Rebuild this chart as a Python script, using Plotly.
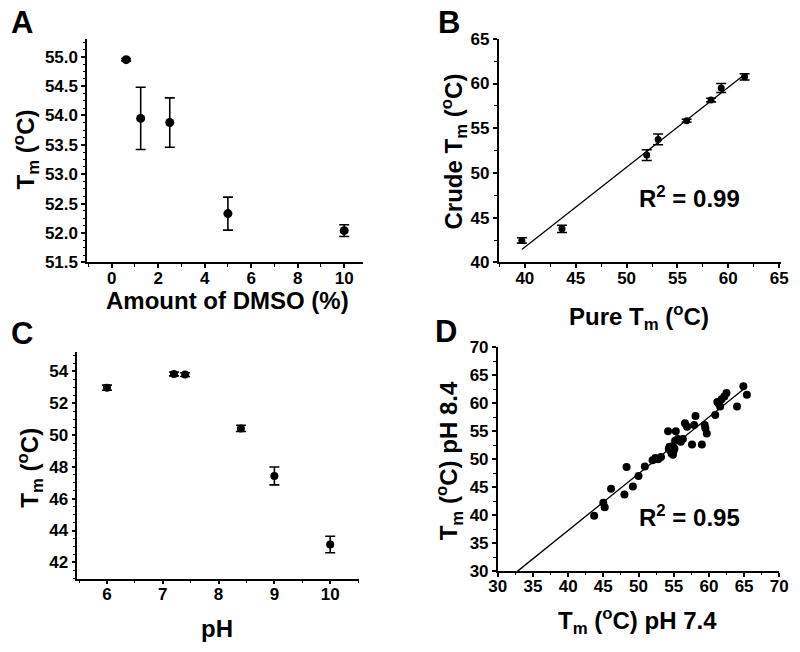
import numpy as np
import plotly.graph_objects as go

W, H = 800, 652

# ---------------- data ----------------
# Panel A
dmso_pct = [0.625, 1.25, 2.5, 5, 10]
dmso_tm = [54.95, 53.95, 53.88, 52.33, 52.04]
dmso_err = [0.02, 0.53, 0.42, 0.28, 0.10]

# Panel B
pure_tm = [39.7, 43.65, 51.98, 53.1, 55.9, 58.3, 59.3, 61.6]
crude_tm = [42.45, 43.75, 52.0, 53.75, 55.85, 58.15, 59.5, 60.75]
crude_err = [0.3, 0.4, 0.6, 0.6, 0.15, 0.2, 0.5, 0.35]

# Panel C
ph_vals = [6, 7.2, 7.4, 8.4, 9, 10]
ph_tm = [52.98, 53.84, 53.8, 50.42, 47.43, 43.12]
ph_err = [0.16, 0.12, 0.12, 0.2, 0.56, 0.52]

# Panel D
tm_ph74 = [43.7, 45.0, 45.2, 46.1, 48.0, 48.3, 49.2, 50.0, 50.9, 52.0, 52.4, 52.8,
           53.2, 54.2, 54.3, 54.4, 54.6, 54.7, 54.9, 55.0, 55.1, 54.8, 55.3, 55.2,
           55.6, 56.0, 56.3, 56.6, 56.9, 57.6, 58.1, 57.9, 59.0, 59.4, 59.7, 59.5,
           60.9, 61.2, 61.6, 61.8, 62.2, 62.5, 61.4, 64.0, 64.9, 65.4]
tm_ph84 = [39.9, 42.2, 41.4, 44.7, 43.7, 48.6, 45.1, 47.0, 48.7, 49.8, 50.2, 50.0,
           50.4, 55.0, 51.8, 52.2, 51.4, 51.0, 50.8, 51.5, 51.9, 52.3, 55.0, 53.3,
           53.6, 53.1, 53.6, 56.4, 55.8, 52.6, 57.7, 56.1, 52.6, 56.1, 54.6, 55.5,
           57.9, 60.2, 59.4, 60.7, 61.2, 61.8, 59.9, 59.4, 63.0, 61.5]

r2_b = "0.99"
r2_d = "0.95"

# ---------------- figure ----------------
FONT = "Liberation Sans, Arial, Helvetica, sans-serif"
fig = go.Figure()


def px_x(x):
    return x / W


def px_y(y):
    return 1 - y / H


marker = dict(color="black", size=9, symbol="circle")


def err(arr):
    return dict(type="data", array=arr, visible=True, color="black", thickness=1.6, width=5)


# A
fig.add_trace(go.Scatter(x=dmso_pct, y=dmso_tm, mode="markers", marker=marker,
                         error_y=err(dmso_err), xaxis="x", yaxis="y", showlegend=False))
# B
fig.add_trace(go.Scatter(x=pure_tm, y=crude_tm, mode="markers", marker=dict(marker, size=7),
                         error_y=err(crude_err), xaxis="x2", yaxis="y2", showlegend=False))
mb, cb = np.polyfit(pure_tm, crude_tm, 1)
xb = np.array([min(pure_tm), max(pure_tm)])
fig.add_trace(go.Scatter(x=xb, y=mb * xb + cb, mode="lines", line=dict(color="black", width=1.3),
                         xaxis="x2", yaxis="y2", showlegend=False))
# C
fig.add_trace(go.Scatter(x=ph_vals, y=ph_tm, mode="markers", marker=dict(marker, size=8),
                         error_y=err(ph_err), xaxis="x3", yaxis="y3", showlegend=False))
# D
md, cd = np.polyfit(tm_ph74, tm_ph84, 1)
xd = np.array([(30 - cd) / md, max(tm_ph74)])
fig.add_trace(go.Scatter(x=xd, y=md * xd + cd, mode="lines", line=dict(color="black", width=1.3),
                         xaxis="x4", yaxis="y4", showlegend=False))
fig.add_trace(go.Scatter(x=tm_ph74, y=tm_ph84, mode="markers", marker=dict(marker, size=8),
                         xaxis="x4", yaxis="y4", showlegend=False))


def axis(domain, rng, dtick, minor, anchor, fmt=None, standoff=0):
    d = dict(domain=domain, range=rng, dtick=dtick, tick0=0, anchor=anchor,
             showline=True, linecolor="black", linewidth=1.6, mirror=False,
             ticks="outside", ticklen=4, tickwidth=1.5, tickcolor="black",
             showgrid=False, zeroline=False, ticklabelstandoff=standoff,
             tickfont=dict(family=FONT, size=17, color="black", weight="bold"),
             minor=dict(ticks="outside", ticklen=2.5, tickwidth=1.2, tickcolor="black",
                        dtick=minor, showgrid=False))
    if fmt:
        d["tickformat"] = fmt
    return d


fig.update_layout(
    width=W, height=H, margin=dict(l=0, r=0, t=0, b=0),
    paper_bgcolor="white", plot_bgcolor="white",
    xaxis=axis([px_x(80), px_x(361.7)], [-1.05, 10.79], 2, 1, "y", standoff=-5),
    yaxis=axis([px_y(261), px_y(31)], [51.5, 55.3], 0.5, 0.125, "x", ".1f"),
    xaxis2=axis([px_x(501), px_x(790)], [37.43, 65.2], 5, 2.5, "y2", standoff=-5),
    yaxis2=axis([px_y(261), px_y(30.7)], [40, 65], 5, 2.5, "x2"),
    xaxis3=axis([px_x(70), px_x(357.7)], [5.47, 10.51], 1, 0.5, "y3", standoff=-5),
    yaxis3=axis([px_y(586.7), px_y(353.3)], [40.98, 55.22], 2, 0.5, "x3"),
    xaxis4=axis([px_x(500), px_x(788)], [30, 70], 5, 2.5, "y4", standoff=-5),
    yaxis4=axis([px_y(579), px_y(348.3)], [30, 70], 5, 2.5, "x4"),
)

TM = "T<sub>m</sub> (<sup>o</sup>C)"
title_font = dict(family=FONT, size=24, color="black", weight="bold")
letter_font = dict(family=FONT, size=31, color="black", weight="bold")

titles = [
    ("Amount of DMSO (%)", 224, 300, 0),
    (TM, 17, 145, -90),
    ("Pure " + TM, 644, 317, 0),
    ("Crude " + TM, 455, 147, -90),
    ("pH", 213, 638, 0),
    (TM, 22, 473, -90),
    (TM + " pH 7.4", 643, 630, 0),
    (TM + " pH 8.4", 451, 465, -90),
]
for text, x, y, ang in titles:
    fig.add_annotation(text=text, x=px_x(x), y=px_y(y), xref="paper", yref="paper",
                       showarrow=False, xanchor="center", yanchor="middle",
                       textangle=ang, font=title_font)

for text, x, y in [("A", 13, 14), ("B", 450, 14), ("C", 13, 334), ("D", 447, 332)]:
    fig.add_annotation(text=text, x=px_x(x), y=px_y(y), xref="paper", yref="paper",
                       showarrow=False, xanchor="center", yanchor="middle", font=letter_font)

fig.add_annotation(text="R<sup>2</sup> = " + r2_b, x=56.2, y=47.3, xref="x2", yref="y2",
                   showarrow=False, xanchor="center", yanchor="middle", font=title_font)
fig.add_annotation(text="R<sup>2</sup> = " + r2_d, x=57.3, y=39.9, xref="x4", yref="y4",
                   showarrow=False, xanchor="center", yanchor="middle", font=title_font)

fig.write_html("out.html", config={"displayModeBar": False},
               post_script="document.body.style.margin='0';document.body.style.overflow='hidden';")
